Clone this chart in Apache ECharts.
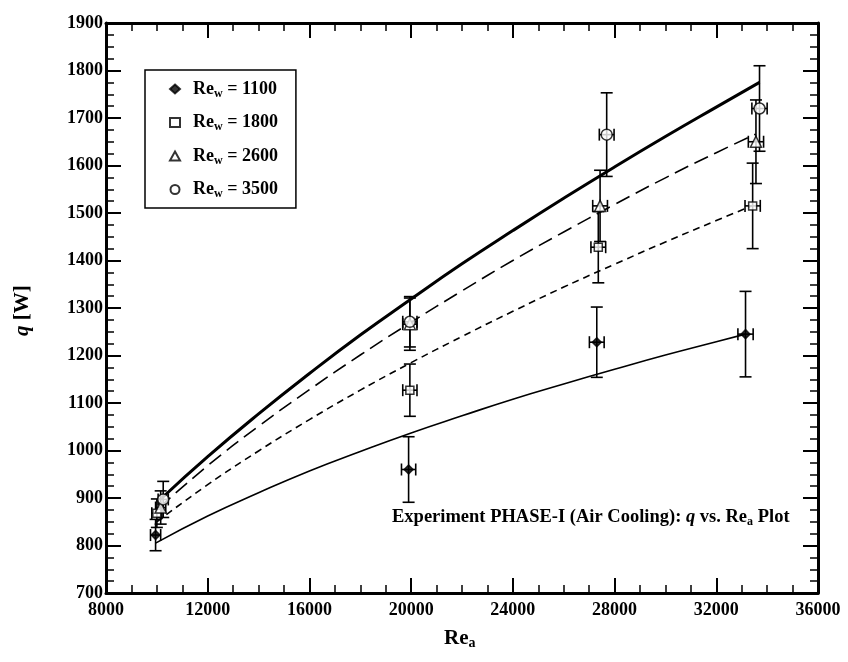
<!DOCTYPE html>
<html>
<head>
<meta charset="utf-8">
<script src="https://cdn.jsdelivr.net/npm/echarts@6/dist/echarts.min.js"></script>
<style>html,body{margin:0;padding:0;background:#fff;}#c{width:848px;height:662px;}</style>
</head>
<body>
<div id="c"></div>
<script>
// ---- measured data (Re_a, q [W]) with error bars ----
const seriesNames = ['Re_w = 1100', 'Re_w = 1800', 'Re_w = 2600', 'Re_w = 3500'];
const symbols = ['diamond', 'rect', 'triangle', 'circle'];
const symbolFill = ['#000', '#fff', '#fff', '#fff'];
const symbolSizes = [9, 8, 11, 11];

const reA_1100 = [9950, 19900, 27300, 33150];
const q_1100   = [822, 960, 1228, 1245];
const qErr_1100 = [33, 69, 74, 90];
const reErr_1100 = [200, 280, 290, 300];

const reA_1800 = [10000, 19950, 27360, 33430];
const q_1800   = [868, 1127, 1428, 1515];
const qErr_1800 = [30, 55, 75, 90];
const reErr_1800 = [200, 280, 290, 300];

const reA_2600 = [10150, 19950, 27430, 33560];
const q_2600   = [880, 1266, 1515, 1650];
const qErr_2600 = [35, 55, 75, 88];
const reErr_2600 = [200, 280, 290, 300];

const reA_3500 = [10250, 19950, 27690, 33700];
const q_3500   = [897, 1271, 1665, 1720];
const qErr_3500 = [38, 53, 88, 90];
const reErr_3500 = [200, 280, 290, 300];

// ---- fitted curves ----
const fitX_1100 = [9950, 12000, 14000, 16000, 18000, 20000, 22000, 24000, 26000, 28000, 30000, 32000, 33150];
const fitQ_1100 = [805, 862, 911, 957, 998, 1037, 1073, 1108, 1140, 1171, 1201, 1229, 1245];

const fitX_1800 = [10000, 12000, 14000, 16000, 18000, 20000, 22000, 24000, 26000, 28000, 30000, 32000, 33400];
const fitQ_1800 = [850, 928, 999, 1065, 1127, 1185, 1240, 1293, 1344, 1392, 1439, 1484, 1515];

const fitX_2600 = [10100, 12000, 14000, 16000, 18000, 20000, 22000, 24000, 26000, 28000, 30000, 32000, 33550];
const fitQ_2600 = [880, 968, 1051, 1128, 1201, 1270, 1336, 1400, 1460, 1518, 1574, 1627, 1666];

const fitX_3500 = [10200, 12000, 14000, 16000, 18000, 20000, 22000, 24000, 26000, 28000, 30000, 32000, 33700];
const fitQ_3500 = [900, 987, 1077, 1162, 1243, 1319, 1393, 1463, 1531, 1597, 1661, 1723, 1775];

// ---- axis ticks ----
const xMin = 8000, xMax = 36000, xStep = 4000;
const yMin = 700, yMax = 1900, yStep = 100;

const groups = [
  [reA_1100, q_1100, reErr_1100, qErr_1100, fitX_1100, fitQ_1100],
  [reA_1800, q_1800, reErr_1800, qErr_1800, fitX_1800, fitQ_1800],
  [reA_2600, q_2600, reErr_2600, qErr_2600, fitX_2600, fitQ_2600],
  [reA_3500, q_3500, reErr_3500, qErr_3500, fitX_3500, fitQ_3500]
];
const lineStyles = [
  {width: 1.6, type: 'solid'},
  {width: 1.6, type: [7, 5]},
  {width: 1.6, type: [15, 7]},
  {width: 3, type: 'solid'}
];

const FONT = '"Liberation Serif", "DejaVu Serif", serif';
const chart = echarts.init(document.getElementById('c'), null, {renderer: 'canvas'});

const series = [];
groups.forEach((g, i) => {
  series.push({
    type: 'line', silent: true, z: 2,
    data: g[4].map((x, k) => [x, g[5][k]]),
    showSymbol: false, symbol: 'none', smooth: true,
    lineStyle: {color: '#000', width: lineStyles[i].width, type: lineStyles[i].type}
  });
});
groups.forEach((g, i) => {
  series.push({
    type: 'custom', z: 3, silent: true,
    data: g[0].map((x, k) => [x, g[1][k], g[2][k], g[3][k]]),
    renderItem: function (params, api) {
      const x = api.value(0), y = api.value(1), ex = api.value(2), ey = api.value(3);
      const top = api.coord([x, y + ey]);
      const bot = api.coord([x, y - ey]);
      const lft = api.coord([x - ex, y]);
      const rgt = api.coord([x + ex, y]);
      const c = 6;
      const st = {stroke: '#000', lineWidth: 1.6};
      return {type: 'group', children: [
        {type: 'line', shape: {x1: top[0], y1: top[1], x2: bot[0], y2: bot[1]}, style: st},
        {type: 'line', shape: {x1: top[0] - c, y1: top[1], x2: top[0] + c, y2: top[1]}, style: st},
        {type: 'line', shape: {x1: bot[0] - c, y1: bot[1], x2: bot[0] + c, y2: bot[1]}, style: st},
        {type: 'line', shape: {x1: lft[0], y1: lft[1], x2: rgt[0], y2: rgt[1]}, style: st},
        {type: 'line', shape: {x1: lft[0], y1: lft[1] - c, x2: lft[0], y2: lft[1] + c}, style: st},
        {type: 'line', shape: {x1: rgt[0], y1: rgt[1] - c, x2: rgt[0], y2: rgt[1] + c}, style: st}
      ]};
    }
  });
});
groups.forEach((g, i) => {
  series.push({
    type: 'scatter', name: seriesNames[i], z: 4,
    symbol: symbols[i], symbolSize: symbolSizes[i],
    itemStyle: {color: symbolFill[i], borderColor: '#000', borderWidth: 1.5},
    data: g[0].map((x, k) => [x, g[1][k]])
  });
});

const axisCommon = {
  axisLine: {show: true, onZero: false, lineStyle: {color: '#000', width: 3}},
  axisTick: {show: true, inside: true, length: 15, lineStyle: {color: '#000', width: 2}},
  minorTick: {show: true, splitNumber: 4, length: 8, lineStyle: {color: '#000', width: 1.5}},
  splitLine: {show: false}, minorSplitLine: {show: false}
};
const labelStyle = {fontFamily: FONT, fontWeight: 'bold', fontSize: 18, color: '#000'};

const option = {
  animation: false,
  backgroundColor: '#fff',
  grid: {left: 106, right: 30, top: 23, bottom: 69},
  xAxis: [
    Object.assign({type: 'value', min: xMin, max: xMax, interval: xStep, position: 'bottom',
      axisLabel: Object.assign({margin: 8, formatter: v => String(v)}, labelStyle)}, axisCommon),
    Object.assign({type: 'value', min: xMin, max: xMax, interval: xStep, position: 'top',
      axisLabel: {show: false}}, axisCommon)
  ],
  yAxis: [
    Object.assign({type: 'value', min: yMin, max: yMax, interval: yStep, position: 'left',
      axisLabel: Object.assign({margin: 3, formatter: v => String(v)}, labelStyle)}, axisCommon),
    Object.assign({type: 'value', min: yMin, max: yMax, interval: yStep, position: 'right',
      axisLabel: {show: false}}, axisCommon)
  ],
  legend: {
    data: seriesNames, orient: 'vertical', left: 145, top: 70,
    backgroundColor: '#fff', borderColor: '#000', borderWidth: 1.5,
    padding: [10, 18, 8, 24], itemGap: 14, itemWidth: 10, itemHeight: 9,
    formatter: function (name) {
      const v = name.split('= ')[1];
      return '{g|}{b|Re}{s|w}{b| = ' + v + '}';
    },
    textStyle: {
      rich: {
        g: {width: 8},
        b: {fontFamily: FONT, fontWeight: 'bold', fontSize: 18, color: '#000', lineHeight: 20},
        s: {fontFamily: FONT, fontWeight: 'bold', fontSize: 12, color: '#000', padding: [9, 0, 0, 0]}
      }
    }
  },
  graphic: [
    {type: 'text', left: 392, top: 508, z: 10,
      style: {text: '{b|Experiment PHASE-I (Air Cooling): }{i|q}{b| vs. Re}{s|a}{b| Plot}',
        rich: {
          b: {fontFamily: FONT, fontWeight: 'bold', fontSize: 18.5, fill: '#000'},
          i: {fontFamily: FONT, fontWeight: 'bold', fontStyle: 'italic', fontSize: 18.5, fill: '#000'},
          s: {fontFamily: FONT, fontWeight: 'bold', fontSize: 12, fill: '#000', padding: [9, 0, 0, 0]}
        }}},
    {type: 'text', x: 12, y: 336, rotation: Math.PI / 2, z: 10,
      style: {text: '{i|q}{b| [W]}',
        rich: {
          b: {fontFamily: FONT, fontWeight: 'bold', fontSize: 21, fill: '#000'},
          i: {fontFamily: FONT, fontWeight: 'bold', fontStyle: 'italic', fontSize: 21, fill: '#000'}
        }}},
    {type: 'text', left: 444, top: 628, z: 10,
      style: {text: '{b|Re}{s|a}',
        rich: {
          b: {fontFamily: FONT, fontWeight: 'bold', fontSize: 21, fill: '#000'},
          s: {fontFamily: FONT, fontWeight: 'bold', fontSize: 14, fill: '#000', padding: [10, 0, 0, 0]}
        }}}
  ],
  series: series
};
chart.setOption(option);
</script>
</body>
</html>
